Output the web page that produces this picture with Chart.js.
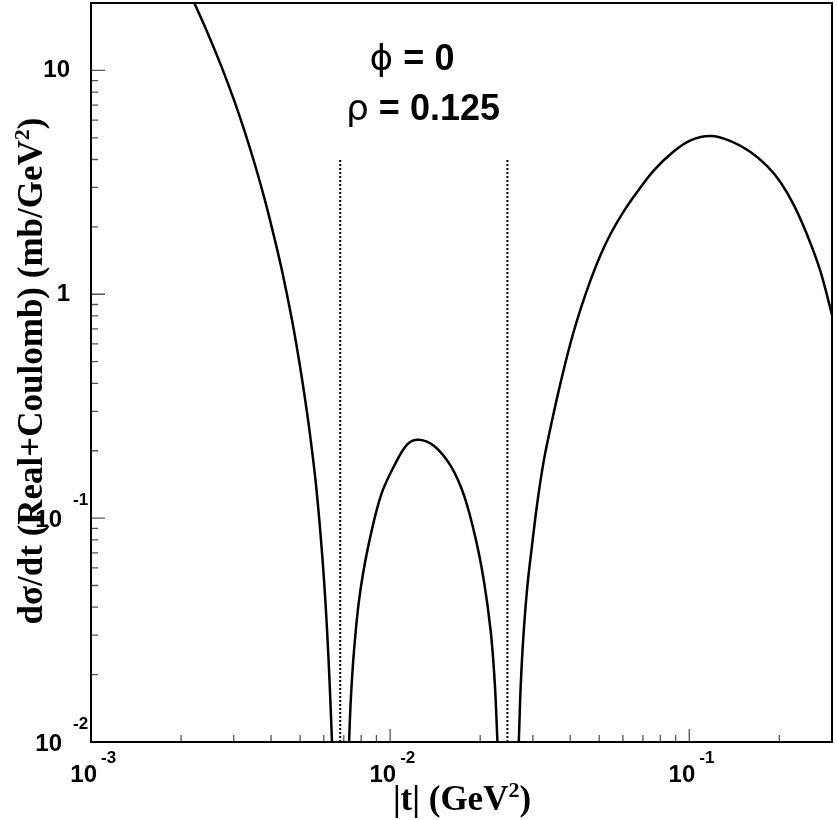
<!DOCTYPE html>
<html>
<head>
<meta charset="utf-8">
<script src="https://cdn.jsdelivr.net/npm/chart.js@4.4.0/dist/chart.umd.min.js"></script>
<style>
  html, body { margin: 0; padding: 0; background: #fff; }
  #wrap { width: 837px; height: 820px; }
</style>
</head>
<body>
<div id="wrap"><canvas id="chart" width="837" height="820"></canvas></div>
<script>
// |t| (GeV^2) and dsigma/dt (mb/GeV^2)
const tValues = [
  0.00197, 0.00220, 0.002454, 0.002726, 0.003001, 0.003271, 0.003543, 0.003806, 0.004060, 0.004314,
  0.004553, 0.004780, 0.004994, 0.005196, 0.005384, 0.005639, 0.005844, 0.006018, 0.006158, 0.006275,
  0.006392, 0.00652,
  0.00714, 0.00729, 0.00739, 0.00758, 0.00788, 0.00841, 0.00931, 0.01031, 0.01143, 0.01250,
  0.01403, 0.01594, 0.01767, 0.01933, 0.02061, 0.02170, 0.02237, 0.02284, 0.02334,
  0.02625, 0.02691, 0.02732, 0.02790, 0.02877, 0.02990, 0.03107, 0.03269, 0.03486, 0.03716,
  0.04013, 0.04334, 0.04681, 0.05055, 0.05460, 0.06045, 0.06705, 0.07616, 0.08884, 0.1010,
  0.1178, 0.1374, 0.1602, 0.1822, 0.2018, 0.2235, 0.2477, 0.2745, 0.3003
];
const sigmaValues = [
  28.0, 20.4, 14.7, 10.45, 7.42, 5.29, 3.74, 2.66, 1.89, 1.34,
  0.950, 0.677, 0.479, 0.340, 0.242, 0.145, 0.0866, 0.0518, 0.0310, 0.0185,
  0.0100, 0.0050,
  0.0050, 0.0100, 0.0156, 0.0260, 0.0435, 0.0727, 0.126, 0.171, 0.214, 0.224,
  0.210, 0.171, 0.126, 0.0806, 0.0518, 0.0310, 0.0185, 0.0100, 0.0050,
  0.0050, 0.0100, 0.0178, 0.0298, 0.0499, 0.0781, 0.118, 0.183, 0.277, 0.404,
  0.609, 0.860, 1.160, 1.501, 1.863, 2.350, 2.868, 3.578, 4.35, 4.87,
  5.09, 4.835, 4.318, 3.732, 3.166, 2.509, 1.843, 1.265, 0.805
];

// dotted markers at the zeros
const zeroLines = [0.00681, 0.02466];
const zeroLineBottom = 0.01;
const zeroLineTop = 4;

const xRange = [0.001, 0.3];
const yRange = [0.01, 20];

const xMajorTicks = [0.001, 0.01, 0.1];
const xMajorExp = ['-3', '-2', '-1'];
const xMinorTicks = [0.002, 0.003, 0.004, 0.005, 0.006, 0.007, 0.008, 0.009,
  0.02, 0.03, 0.04, 0.05, 0.06, 0.07, 0.08, 0.09, 0.2];
const yMajorTicks = [0.01, 0.1, 1, 10];
const yMajorBase = ['10', '10', '1', '10'];
const yMajorExp = ['-2', '-1', '', ''];
const yMinorTicks = [0.02, 0.03, 0.04, 0.05, 0.06, 0.07, 0.08, 0.09,
  0.2, 0.3, 0.4, 0.5, 0.6, 0.7, 0.8, 0.9,
  2, 3, 4, 5, 6, 7, 8, 9];

const labelFont = 'bold 24px "Liberation Sans", Arial, sans-serif';
const expFont = 'bold 17px "Liberation Sans", Arial, sans-serif';
const titleFont = 'bold 35px "Liberation Serif", "Times New Roman", serif';
const titleSupFont = 'bold 22px "Liberation Serif", "Times New Roman", serif';
const noteFont = 'bold 36px "Liberation Sans", Arial, sans-serif';
const greekFont = '36px "DejaVu Sans", "Liberation Sans", sans-serif';

// draw a run of text pieces (each with own font and vertical shift)
function drawParts(ctx, parts, x, y, align) {
  let total = 0;
  parts.forEach(p => { ctx.font = p.font; p.w = ctx.measureText(p.text).width; total += p.w; });
  let cx = align === 'center' ? x - total / 2 : (align === 'right' ? x - total : x);
  parts.forEach(p => {
    ctx.font = p.font;
    ctx.textAlign = 'left';
    ctx.fillText(p.text, cx, y + (p.dy || 0));
    cx += p.w;
  });
}

const frameAndLabels = {
  id: 'frameAndLabels',
  afterDraw(chart) {
    const ctx = chart.ctx;
    const a = chart.chartArea;
    const xs = chart.scales.x, ys = chart.scales.y;
    ctx.save();

    // ticks (inside the frame)
    ctx.strokeStyle = '#555';
    ctx.lineWidth = 1.3;
    ctx.beginPath();
    xMinorTicks.forEach(v => { const px = xs.getPixelForValue(v); ctx.moveTo(px, a.bottom); ctx.lineTo(px, a.bottom - 7); });
    xMajorTicks.forEach(v => { const px = xs.getPixelForValue(v); ctx.moveTo(px, a.bottom); ctx.lineTo(px, a.bottom - 13); });
    yMinorTicks.forEach(v => { const py = ys.getPixelForValue(v); ctx.moveTo(a.left, py); ctx.lineTo(a.left + 7, py); });
    yMajorTicks.forEach(v => { const py = ys.getPixelForValue(v); ctx.moveTo(a.left, py); ctx.lineTo(a.left + 14, py); });
    ctx.stroke();

    // frame
    ctx.strokeStyle = '#000';
    ctx.lineWidth = 2;
    ctx.strokeRect(a.left, a.top, a.right - a.left, a.bottom - a.top);

    ctx.fillStyle = '#000';
    ctx.textBaseline = 'middle';

    // x tick labels
    xMajorTicks.forEach((v, i) => {
      const px = xs.getPixelForValue(v);
      ctx.font = labelFont; ctx.textAlign = 'right';
      ctx.fillText('10', px + 6, 775);
      ctx.font = expFont; ctx.textAlign = 'left';
      ctx.fillText(xMajorExp[i], px + 10, 758);
    });

    // y tick labels
    yMajorTicks.forEach((v, i) => {
      const py = ys.getPixelForValue(v);
      ctx.font = labelFont; ctx.textAlign = 'right';
      if (yMajorExp[i]) {
        ctx.fillText(yMajorBase[i], 62, py + 2);
        ctx.font = expFont; ctx.textAlign = 'left';
        ctx.fillText(yMajorExp[i], 73, py - 18);
      } else {
        ctx.fillText(yMajorBase[i], 70, py);
      }
    });

    // axis titles
    ctx.textBaseline = 'alphabetic';
    drawParts(ctx, [
      { text: '|t| (GeV', font: titleFont },
      { text: '2', font: titleSupFont, dy: -13 },
      { text: ')', font: titleFont }
    ], 462, 810, 'center');

    ctx.save();
    ctx.translate(42, 371);
    ctx.rotate(-Math.PI / 2);
    drawParts(ctx, [
      { text: 'd\u03c3/dt (Real+Coulomb) (mb/GeV', font: titleFont },
      { text: '2', font: titleSupFont, dy: -13 },
      { text: ')', font: titleFont }
    ], 0, 0, 'center');
    ctx.restore();

    // annotations
    drawParts(ctx, [
      { text: '\u03d5', font: greekFont },
      { text: ' = 0', font: noteFont }
    ], 412, 70, 'center');
    drawParts(ctx, [
      { text: '\u03c1', font: greekFont },
      { text: ' = 0.125', font: noteFont }
    ], 423, 120, 'center');

    ctx.restore();
  }
};

const curvePoints = tValues.map((t, i) => ({ x: t, y: sigmaValues[i] }));
const zeroSets = zeroLines.map(t => ({
  data: [{ x: t, y: zeroLineBottom }, { x: t, y: zeroLineTop }],
  showLine: true,
  borderColor: '#000',
  borderWidth: 2,
  borderDash: [2, 2],
  pointRadius: 0
}));

new Chart(document.getElementById('chart').getContext('2d'), {
  type: 'scatter',
  data: {
    datasets: [{
      data: curvePoints,
      showLine: true,
      borderColor: '#000',
      borderWidth: 2.5,
      pointRadius: 0,
      tension: 0.35
    }, ...zeroSets]
  },
  options: {
    responsive: false,
    animation: false,
    devicePixelRatio: 1,
    layout: { padding: { left: 91, right: 5, top: 3, bottom: 78 } },
    plugins: { legend: { display: false }, tooltip: { enabled: false } },
    scales: {
      x: { type: 'logarithmic', min: xRange[0], max: xRange[1], display: false },
      y: { type: 'logarithmic', min: yRange[0], max: yRange[1], display: false }
    }
  },
  plugins: [frameAndLabels]
});
</script>
</body>
</html>
